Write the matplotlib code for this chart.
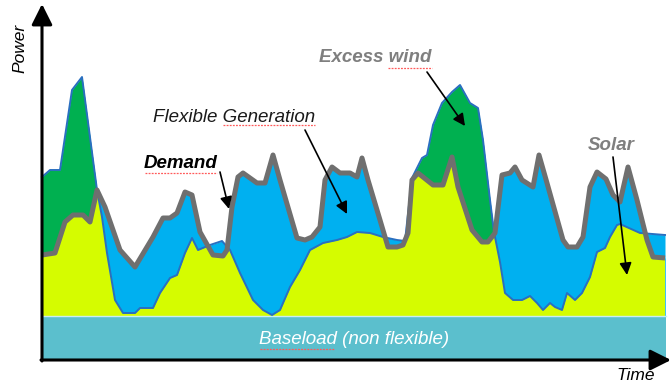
import matplotlib.pyplot as plt
from matplotlib.patches import Polygon, Rectangle

plt.rcParams['font.family'] = ['Liberation Sans', 'DejaVu Sans']

# ---- data (time units, power units; 0 = time origin / zero power) ----
demand_t = [0, 13, 23, 31, 41, 48, 55, 63, 78, 93, 111, 121, 128, 135, 143, 150, 158, 171, 181, 185,
            190, 196, 201, 215, 223, 231, 238, 255, 263, 270, 278, 283, 290, 298, 308, 315, 320, 326,
            338, 346, 355, 361, 366, 370, 376, 391, 401, 410, 416, 430, 440, 446, 453, 460, 468, 473,
            480, 491, 497, 505, 521, 526, 535, 541, 548, 555, 564, 571, 578, 586, 595, 605, 611, 623]
demand_p = [105, 107, 138, 145, 145, 138, 170, 153, 110, 93, 123, 142, 142, 147, 168, 165, 128, 105, 104, 110,
            153, 183, 187, 177, 177, 205, 180, 122, 120, 123, 133, 180, 193, 187, 187, 183, 202, 180,
            140, 113, 113, 115, 127, 180, 187, 175, 175, 203, 173, 130, 118, 118, 127, 185, 187, 193,
            180, 173, 205, 177, 120, 113, 113, 123, 173, 188, 181, 165, 158, 193, 160, 120, 103, 102]

supply_t = [0, 8, 18, 30, 40, 55, 60, 65, 73, 81, 93, 98, 111, 118, 128, 135, 143, 150, 156, 168,
            180, 188, 198, 211, 221, 230, 238, 248, 258, 268, 281, 295, 305, 315, 328, 341, 355, 363,
            370, 380, 385, 391, 400, 410, 418, 428, 436, 441, 448, 452, 458, 463, 471, 480, 488, 495,
            501, 508, 513, 520, 525, 533, 540, 548, 555, 563, 568, 575, 578, 598, 623]
supply_p = [183, 190, 190, 270, 283, 170, 143, 107, 60, 47, 47, 52, 52, 67, 82, 85, 107, 122, 110, 115,
            119, 110, 87, 60, 50, 45, 50, 73, 90, 110, 117, 120, 123, 128, 127, 123, 120, 119,
            182, 202, 205, 235, 257, 268, 275, 257, 252, 220, 160, 128, 98, 67, 60, 60, 64, 57,
            50, 57, 53, 50, 67, 60, 67, 83, 108, 112, 123, 135, 136, 127, 125]

baseload = 44
t_end = 624
excess_wind_windows = [(0, 56), (366, 454)]

# ---- colours ----
TEAL = '#5bbfcd'
YELLOW = '#d5fc00'
BLUE = '#00b0f0'
GREEN = '#00b050'
OUTLINE = '#2a6fc0'
GREY = '#6f6f6f'
LABEL_GREY = '#7f7f7f'

fig = plt.figure(figsize=(6.72, 3.85), dpi=100)
ax = fig.add_axes([0, 0, 1, 1])
ax.set_xlim(-42, 630)
ax.set_ylim(-25, 360)
ax.axis('off')

# flexible generation (blue) below demand and below supply curve
ax.fill_between(demand_t, baseload, demand_p, color=BLUE, lw=0, zorder=1)
ax.fill_between(supply_t, baseload, supply_p, color=BLUE, lw=0, zorder=1)

# excess wind (green)
for w0, w1 in excess_wind_windows:
    g = ax.fill_between(supply_t, baseload, supply_p, color=GREEN, lw=0, zorder=2)
    g.set_clip_path(Rectangle((w0, baseload), w1 - w0, 400, transform=ax.transData))

# solar (yellow) = below both supply and demand
y = ax.fill_between(supply_t, baseload, supply_p, color=YELLOW, lw=0, zorder=3)
demand_poly = Polygon([(demand_t[0], baseload)] + list(zip(demand_t, demand_p)) + [(demand_t[-1], baseload)],
                      closed=True, transform=ax.transData)
y.set_clip_path(demand_poly)

# baseload band
ax.fill_between([0, t_end], 0, baseload, color=TEAL, lw=0, zorder=4)
ax.plot([0, t_end], [baseload, baseload], color='#c9eef2', lw=1, zorder=4)

# curves
ax.plot(supply_t, supply_p, color=OUTLINE, lw=1.4, zorder=5, solid_joinstyle='round')
ax.plot(demand_t, demand_p, color=GREY, lw=3.6, zorder=6, solid_joinstyle='round', solid_capstyle='butt')

# axes arrows
axis_style = dict(arrowstyle='-|>,head_length=0.9,head_width=0.45', lw=2.2, color='black',
                  mutation_scale=14, shrinkA=0, shrinkB=0)
ax.annotate('', xy=(0, 356), xytext=(0, -1), arrowprops=axis_style, zorder=8)
ax.annotate('', xy=(629, 0), xytext=(-1, 0), arrowprops=axis_style, zorder=8)

fs = 13.5
ax.text(-22, 312, 'Power', rotation=90, style='italic', ha='center', va='center', fontsize=12.5, zorder=9)
ax.text(594, -16, 'Time', style='italic', ha='center', va='center', fontsize=12.5, zorder=9)
ax.text(333, 303, 'Excess wind', color=LABEL_GREY, weight='bold', style='italic',
        ha='center', va='center', fontsize=fs, zorder=9)
ax.text(192, 243, 'Flexible Generation', color='#1a1a1a', style='italic',
        ha='center', va='center', fontsize=fs, zorder=9)
ax.text(139, 197, 'Demand', color='black', weight='bold', style='italic',
        ha='center', va='center', fontsize=fs, zorder=9)
ax.text(569, 215, 'Solar', color=LABEL_GREY, weight='bold', style='italic',
        ha='center', va='center', fontsize=fs, zorder=9)
ax.text(312, 20, 'Baseload (non flexible)', color='white', style='italic',
        ha='center', va='center', fontsize=fs, zorder=9)

# spell-check style underlines
for a, b, p in [(346, 390, 292), (181, 273, 235), (103, 175, 187), (218, 293, 11)]:
    ax.plot([a, b], [p, p], color='#ff5a5a', lw=0.9, ls=(0, (1.5, 1)), zorder=9)

# pointer arrows
ptr = dict(arrowstyle='-|>,head_length=0.6,head_width=0.3', lw=1.2, color='black',
           mutation_scale=12, shrinkA=0, shrinkB=0)
ax.annotate('', xy=(423, 234), xytext=(385, 288), arrowprops=ptr, zorder=10)
ax.annotate('', xy=(305, 146), xytext=(263, 230), arrowprops=ptr, zorder=10)
ax.annotate('', xy=(187, 151), xytext=(178, 188), arrowprops=ptr, zorder=10)
ax.annotate('', xy=(585, 85), xytext=(571, 203), arrowprops=ptr, zorder=10)

fig.savefig('out.png', dpi=100)
